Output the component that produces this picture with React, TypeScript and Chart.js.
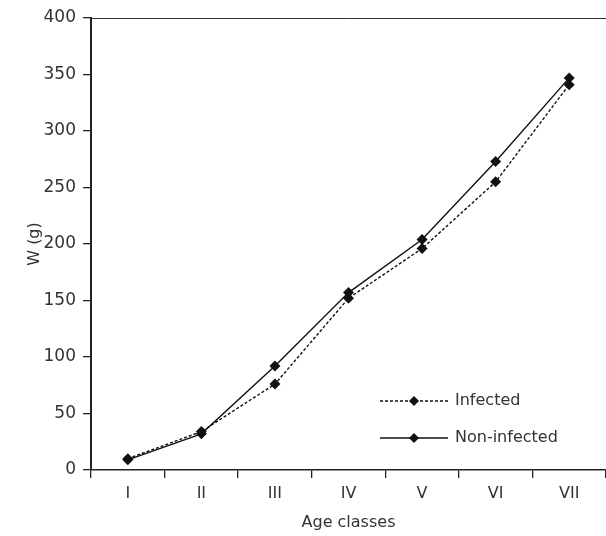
import React, { useEffect, useRef } from "react";
import { Chart, registerables } from "chart.js";

Chart.register(...registerables);

const categories = ["I", "II", "III", "IV", "V", "VI", "VII"];
const infected = [10, 34, 76, 152, 196, 255, 341];
const nonInfected = [9, 32, 92, 157, 204, 273, 347];
const yTicks = [0, 50, 100, 150, 200, 250, 300, 350, 400];

const FONT = "'DejaVu Sans', sans-serif";
const TEXT = "#333";
const INK = "#111";

const legendPlugin = {
  id: "manualLegend",
  afterDraw(chart: any) {
    const { ctx, chartArea } = chart;
    // top border line
    ctx.save();
    ctx.strokeStyle = "#333";
    ctx.lineWidth = 1;
    ctx.beginPath();
    ctx.moveTo(chartArea.left, chartArea.top + 0.5);
    ctx.lineTo(chartArea.right, chartArea.top + 0.5);
    ctx.stroke();

    const items = chart.data.datasets.map((ds: any) => ({
      label: ds.label,
      dash: ds.borderDash || [],
      width: ds.borderWidth,
    }));
    const x0 = chartArea.left + 289;
    const x1 = x0 + 68;
    const ys = [chartArea.bottom - 69, chartArea.bottom - 32];
    items.forEach((it: any, i: number) => {
      const y = ys[i];
      ctx.strokeStyle = INK;
      ctx.lineWidth = it.width;
      ctx.setLineDash(it.dash);
      ctx.beginPath();
      ctx.moveTo(x0, y);
      ctx.lineTo(x1, y);
      ctx.stroke();
      ctx.setLineDash([]);
      const cx = (x0 + x1) / 2;
      const r = 5;
      ctx.fillStyle = INK;
      ctx.beginPath();
      ctx.moveTo(cx - r, y);
      ctx.lineTo(cx, y - r);
      ctx.lineTo(cx + r, y);
      ctx.lineTo(cx, y + r);
      ctx.closePath();
      ctx.fill();
      ctx.fillStyle = TEXT;
      ctx.font = `16px ${FONT}`;
      ctx.textBaseline = "middle";
      ctx.textAlign = "left";
      ctx.fillText(it.label, x1 + 7, y);
    });
    ctx.restore();
  },
};

export default function App() {
  const ref = useRef<HTMLCanvasElement | null>(null);
  useEffect(() => {
    document.body.style.margin = "0";
    const chart = new Chart(ref.current as HTMLCanvasElement, {
      type: "line",
      data: {
        labels: categories,
        datasets: [
          {
            label: "Infected",
            data: infected,
            borderColor: INK,
            backgroundColor: INK,
            borderWidth: 1.4,
            borderDash: [3, 2],
            pointStyle: "rectRot",
            pointRadius: 5.5,
            pointBackgroundColor: INK,
            pointBorderWidth: 0,
            tension: 0,
          },
          {
            label: "Non-infected",
            data: nonInfected,
            borderColor: INK,
            backgroundColor: INK,
            borderWidth: 1.4,
            pointStyle: "rectRot",
            pointRadius: 5.5,
            pointBackgroundColor: INK,
            pointBorderWidth: 0,
            tension: 0,
          },
        ],
      },
      options: {
        animation: false,
        responsive: false,
        maintainAspectRatio: false,
        layout: { autoPadding: false, padding: { top: 18, right: 0, left: 0, bottom: 0 } },
        plugins: {
          legend: { display: false },
          tooltip: { enabled: false },
        },
        scales: {
          x: {
            type: "category",
            offset: true,
            grid: {
              offset: true,
              drawOnChartArea: false,
              drawTicks: true,
              tickLength: 8,
              color: "#222",
              lineWidth: 1.3,
            },
            border: { display: true, color: "#222", width: 1.5 },
            ticks: {
              color: TEXT,
              font: { family: FONT, size: 16 },
              padding: 6,
              maxRotation: 0,
            },
            title: {
              display: true,
              text: "Age classes",
              color: TEXT,
              font: { family: FONT, size: 16 },
              padding: { top: 4, bottom: 4 },
            },
            afterFit: (axis: any) => {
              axis.height = 66;
              axis.paddingLeft = 0;
              axis.paddingRight = 0;
            },
          },
          y: {
            min: 0,
            max: 400,
            afterBuildTicks: (axis: any) => {
              axis.ticks = yTicks.map((v) => ({ value: v }));
            },
            grid: {
              drawOnChartArea: false,
              drawTicks: true,
              tickLength: 8,
              color: "#222",
              lineWidth: 1.3,
            },
            border: { display: true, color: "#222", width: 2 },
            ticks: {
              color: TEXT,
              font: { family: FONT, size: 17 },
              padding: 7,
            },
            title: {
              display: true,
              text: "W (g)",
              color: TEXT,
              font: { family: FONT, size: 16 },
              padding: { top: 25, bottom: 4 },
            },
            afterFit: (axis: any) => {
              axis.width = 91;
            },
          },
        },
      },
      plugins: [legendPlugin],
    });
    return () => chart.destroy();
  }, []);
  return (
    <div style={{ width: 606, height: 536, position: "relative" }}>
      <canvas ref={ref} width={606} height={536} style={{ display: "block" }} />
    </div>
  );
}
